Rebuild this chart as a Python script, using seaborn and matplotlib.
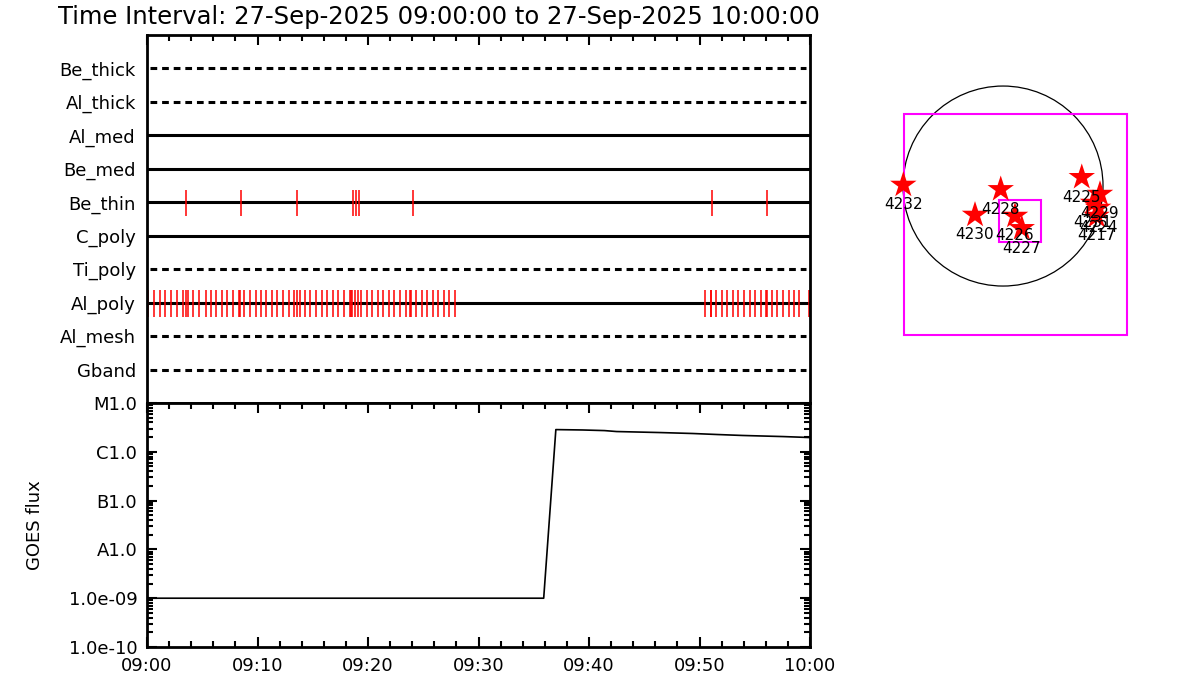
import numpy as np
import matplotlib
matplotlib.use("Agg")
import matplotlib.pyplot as plt
import seaborn as sns
from matplotlib.patches import Circle, Rectangle
from matplotlib.ticker import FixedLocator, MultipleLocator, LogLocator, NullFormatter

# =========================================================
# DATA
# =========================================================

TITLE = "Time Interval: 27-Sep-2025 09:00:00 to 27-Sep-2025 10:00:00"

# filter rows, bottom to top
filters = ["Gband", "Al_mesh", "Al_poly", "Ti_poly", "C_poly",
           "Be_thin", "Be_med", "Al_med", "Al_thick", "Be_thick"]
filter_dashed = [True, True, False, True, False,
                 False, False, False, True, True]

# exposure times in minutes after 09:00
be_thin_exp = [3.56, 8.53, 13.6, 18.67, 18.9, 19.16, 24.05, 51.16, 56.14]
al_poly_exp = [0.12, 0.63, 1.15, 1.66, 2.2, 2.69, 3.23, 3.5, 3.74, 4.19,
               4.68, 5.31, 5.76, 6.22, 6.76, 7.27, 7.75, 8.3, 8.42, 8.81,
               9.29, 9.84, 10.32, 10.8, 11.31, 11.79, 12.34, 12.85, 13.3,
               13.55, 13.82, 14.3, 14.78, 15.29, 15.81, 16.32, 16.8, 17.31,
               17.8, 18.34, 18.46, 18.58, 18.82, 19.06, 19.37, 19.88, 20.36,
               20.88, 21.36, 21.87, 22.35, 22.87, 23.41, 23.8, 23.89, 24.37,
               24.86, 25.37, 25.86, 26.37, 26.85, 27.36, 27.9,
               50.47, 51.01, 51.07, 51.52, 52.01, 52.52, 53.03, 53.51, 54.03,
               54.54, 55.02, 55.54, 55.99, 56.14, 56.56, 57.04, 57.56, 58.07,
               58.55, 59.03, 59.94]

# GOES flux curve
goes_min = [0, 35.9, 37.0, 39.4, 41.4, 42.5, 46.4, 49.4, 51.6, 53.9, 57.6, 60]
goes_flux = [1e-9, 1e-9, 2.85e-6, 2.8e-6, 2.72e-6, 2.6e-6, 2.48e-6,
             2.37e-6, 2.26e-6, 2.16e-6, 2.05e-6, 1.96e-6]
goes_ticks = [1e-10, 1e-9, 1e-8, 1e-7, 1e-6, 1e-5]
goes_labels = ["1.0e-10", "1.0e-09", "A1.0", "B1.0", "C1.0", "M1.0"]

time_ticks = [0, 10, 20, 30, 40, 50, 60]
time_labels = ["09:00", "09:10", "09:20", "09:30", "09:40", "09:50", "10:00"]

# active regions on the disk (arcsec)
ar_names = ["4232", "4228", "4230", "4226", "4227", "4225",
            "4229", "4231", "4224", "4217"]
ar_x = [-957, -22, -269, 115, 180, 756, 931, 864, 912, 899]
ar_y = [10, -32, -278, -288, -406, 84, -77, -163, -211, -288]

sun_radius = 960
fov_big = [-950, -1430, 2140, 2121]     # x0, y0, width, height
fov_small = [-38, -538, 403, 404]

# =========================================================
# FIGURE
# =========================================================

sns.set_style("white")
plt.rcParams["font.family"] = ["DejaVu Sans"]
plt.rcParams["text.color"] = "black"
plt.rcParams["axes.labelcolor"] = "black"
plt.rcParams["xtick.color"] = "black"
plt.rcParams["ytick.color"] = "black"

fig = plt.figure(figsize=(12, 7), dpi=100)

ax_f = fig.add_axes([0.1225, 0.4243, 0.5525, 0.5257])
ax_g = fig.add_axes([0.1225, 0.0757, 0.5525, 0.3486])
ax_s = fig.add_axes([880 / 1200, 1 - 350 / 700, 270 / 1200, 290 / 700])

fig.text(0.048, 0.976, TITLE, fontsize=17.5, va="center", ha="left")

# ---------------- filter timeline ----------------
for i, (name, dashed) in enumerate(zip(filters, filter_dashed)):
    row = i + 1
    if dashed:
        ax_f.hlines(row, 0.3, 59.6, color="black", lw=2.2,
                    linestyles=(0, (2.2, 1.6)))
    else:
        ax_f.hlines(row, 0, 60, color="black", lw=2.2)

row_thin = filters.index("Be_thin") + 1
row_poly = filters.index("Al_poly") + 1
ax_f.vlines(be_thin_exp, row_thin - 0.42, row_thin + 0.38, color="red", lw=1.1)
ax_f.vlines(al_poly_exp, row_poly - 0.42, row_poly + 0.38, color="red", lw=1.1)

ax_f.set_xlim(0, 60)
ax_f.set_ylim(0, 11)
ax_f.set_yticks(range(1, len(filters) + 1))
ax_f.set_yticklabels(filters, fontsize=13)
ax_f.xaxis.set_major_locator(MultipleLocator(10))
ax_f.xaxis.set_minor_locator(MultipleLocator(2))
ax_f.tick_params(axis="y", length=0, pad=8)
ax_f.tick_params(axis="x", which="both", direction="in", top=True,
                 bottom=False, labelbottom=False, width=1.5)
ax_f.tick_params(axis="x", which="major", length=7)
ax_f.tick_params(axis="x", which="minor", length=4)
for sp in ax_f.spines.values():
    sp.set_linewidth(2)
    sp.set_color("black")

# ---------------- GOES flux ----------------
sns.lineplot(x=goes_min, y=goes_flux, ax=ax_g, color="black",
             lw=1.2, estimator=None)
ax_g.set_yscale("log")
ax_g.set_ylim(1e-10, 1e-5)
ax_g.set_xlim(0, 60)
ax_g.yaxis.set_major_locator(FixedLocator(goes_ticks))
ax_g.set_yticklabels(goes_labels, fontsize=13)
ax_g.yaxis.set_minor_locator(LogLocator(base=10, subs=np.arange(2, 10)))
ax_g.yaxis.set_minor_formatter(NullFormatter())
ax_g.set_xticks(time_ticks)
ax_g.set_xticklabels(time_labels, fontsize=13)
ax_g.xaxis.set_minor_locator(MultipleLocator(2))
ax_g.tick_params(which="both", direction="in", top=True, right=True,
                 left=True, bottom=True, width=1.5)
ax_g.tick_params(which="major", length=7, pad=7)
ax_g.tick_params(which="minor", length=4)
ax_g.set_ylabel("GOES flux", fontsize=13, labelpad=18)
for sp in ax_g.spines.values():
    sp.set_linewidth(2)
    sp.set_color("black")

# ---------------- solar disk ----------------
ax_s.add_patch(Circle((0, 0), sun_radius, fill=False, ec="black", lw=0.9))
ax_s.add_patch(Rectangle((fov_big[0], fov_big[1]), fov_big[2], fov_big[3],
                         fill=False, ec="magenta", lw=1.5))
ax_s.add_patch(Rectangle((fov_small[0], fov_small[1]), fov_small[2],
                         fov_small[3], fill=False, ec="magenta", lw=1.5))
sns.scatterplot(x=ar_x, y=ar_y, ax=ax_s, marker="*", s=400, color="red",
                edgecolor="none", zorder=3)
for name, x, y in zip(ar_names, ar_x, ar_y):
    ax_s.text(x, y - 190, name, fontsize=11, ha="center", va="center",
              zorder=4)

ax_s.set_xlim(-1181, 1411)
ax_s.set_ylim(-1574, 1210)
ax_s.axis("off")

fig.savefig("out.png", dpi=100)
